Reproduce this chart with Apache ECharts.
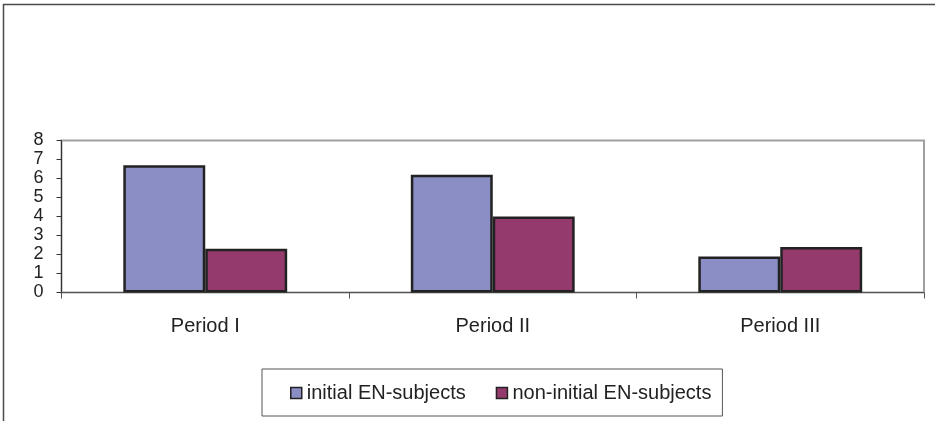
<!DOCTYPE html>
<html>
<head>
<meta charset="utf-8">
<script src="https://cdn.jsdelivr.net/npm/echarts@6/dist/echarts.min.js"></script>
<style>
html,body{margin:0;padding:0;background:#fff;}
#chart{width:935px;height:421px;}
</style>
</head>
<body>
<div id="chart"></div>
<script>
const categories = ['Period I', 'Period II', 'Period III'];
const initialEN = [6.7, 6.2, 1.9];
const nonInitialEN = [2.3, 4.0, 2.4];
const seriesNames = ['initial EN-subjects', 'non-initial EN-subjects'];
const yTicks = { min: 0, max: 8, interval: 1 };

const chart = echarts.init(document.getElementById('chart'), null, { renderer: 'canvas' });
const font = 'Liberation Sans, Arial, sans-serif';
chart.setOption({
  animation: false,
  backgroundColor: '#ffffff',
  graphic: [{
    type: 'rect',
    shape: { x: 3.5, y: 4.5, width: 1000, height: 1000 },
    style: { fill: 'none', stroke: '#4a4a4a', lineWidth: 1.5 },
    silent: true
  }],
  grid: {
    left: 61.5, right: 11, top: 140.5, bottom: 128.5,
    show: true, borderColor: '#a0a0a0', borderWidth: 2, backgroundColor: 'transparent'
  },
  legend: {
    left: 262, top: 369,
    padding: [14, 11, 13, 28],
    borderColor: '#555', borderWidth: 1,
    itemWidth: 11, itemHeight: 11, itemGap: 30,
    icon: 'rect',
    textStyle: { fontFamily: font, fontSize: 20, color: '#222' },
    itemStyle: { borderColor: '#222', borderWidth: 1.5 },
    data: seriesNames
  },
  xAxis: {
    type: 'category',
    data: categories,
    axisLine: { lineStyle: { color: '#555', width: 1 } },
    axisTick: { show: true, length: 6, lineStyle: { color: '#555' } },
    axisLabel: { fontFamily: font, fontSize: 20, color: '#222', margin: 24 }
  },
  yAxis: {
    type: 'value',
    min: yTicks.min, max: yTicks.max, interval: yTicks.interval,
    axisLine: { show: true, lineStyle: { color: '#333', width: 1 } },
    axisTick: { show: true, length: 5, lineStyle: { color: '#333' } },
    splitLine: { show: false },
    axisLabel: { fontFamily: font, fontSize: 18, color: '#222', margin: 18 }
  },
  series: [
    {
      name: seriesNames[0], type: 'bar', data: initialEN,
      barWidth: '28.5%', barGap: '0%',
      itemStyle: { color: '#8a8ec4', borderColor: '#222', borderWidth: 2.5 }
    },
    {
      name: seriesNames[1], type: 'bar', data: nonInitialEN,
      barWidth: '28.5%', barGap: '0%',
      itemStyle: { color: '#953a6c', borderColor: '#222', borderWidth: 2.5 }
    }
  ]
});
</script>
</body>
</html>
